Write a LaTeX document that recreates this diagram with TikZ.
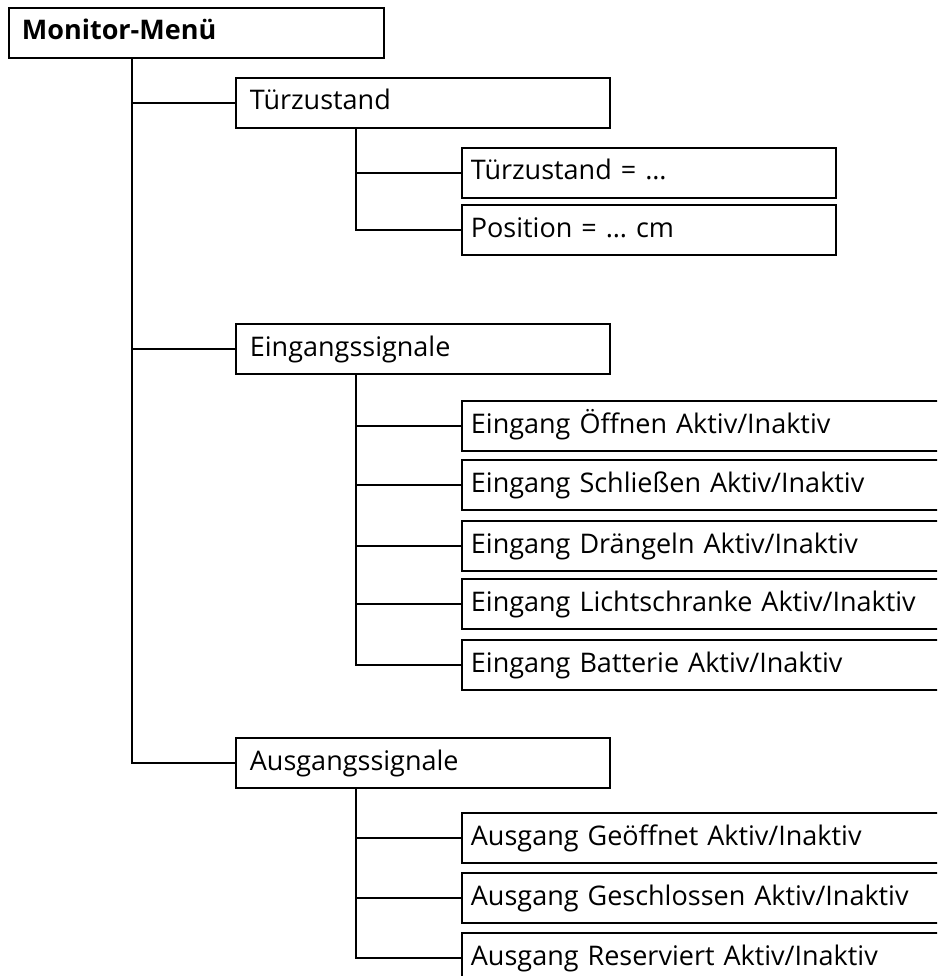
\documentclass[tikz,border=0pt]{standalone}
\usepackage{fontspec}
\setmainfont{Open Sans}
\begin{document}
\begin{tikzpicture}[x=1pt,y=-1pt,
  box/.style={draw=black, line width=1.8pt, anchor=west, minimum height=50pt,
    inner ysep=0pt, align=left, font=\fontsize{27}{30}\selectfont,
    text height=20pt, text depth=6pt},
  lvlone/.style={box, inner xsep=13pt, text width=375pt-26pt},
  lvltwo/.style={box, inner xsep=14pt, text width=374pt-28pt},
  lvlthree/.style={box, inner xsep=9pt, text width=374pt-18pt},
  lvlwide/.style={box, inner xsep=9pt, text width=520pt-18pt},
  link/.style={line width=1.8pt}]
\useasboundingbox (0,0) rectangle (937,976);
\clip (0,0) rectangle (937,976);

% top level
\node[lvlone, font=\fontsize{27}{30}\selectfont\bfseries] (root) at (8,33) {Monitor-Menü};

% second level
\node[lvltwo] (tz) at (235,103) {Türzustand};
\node[lvltwo] (es) at (235,349) {Eingangssignale};
\node[lvltwo] (as) at (235,763) {Ausgangssignale};

% door state
\node[lvlthree] (tz1) at (461,173) {Türzustand = …};
\node[lvlthree] (tz2) at (461,230) {Position = … cm};

% input signals
\node[lvlwide] (e1) at (461,426) {Eingang Öffnen Aktiv/Inaktiv};
\node[lvlwide] (e2) at (461,485) {Eingang Schließen Aktiv/Inaktiv};
\node[lvlwide] (e3) at (461,546) {Eingang Drängeln Aktiv/Inaktiv};
\node[lvlwide] (e4) at (461,604) {Eingang Lichtschranke Aktiv/Inaktiv};
\node[lvlwide] (e5) at (461,665) {Eingang Batterie Aktiv/Inaktiv};

% output signals
\node[lvlwide] (a1) at (461,838) {Ausgang Geöffnet Aktiv/Inaktiv};
\node[lvlwide] (a2) at (461,898) {Ausgang Geschlossen Aktiv/Inaktiv};
\node[lvlwide] (a3) at (461,958) {Ausgang Reserviert Aktiv/Inaktiv};

% tree connectors
\foreach \c in {tz,es,as}
  \draw[link] ([xshift=124pt]root.south west) |- (\c.west);
\foreach \c in {tz1,tz2}
  \draw[link] ([xshift=121pt]tz.south west) |- (\c.west);
\foreach \c in {e1,e2,e3,e4,e5}
  \draw[link] ([xshift=121pt]es.south west) |- (\c.west);
\foreach \c in {a1,a2,a3}
  \draw[link] ([xshift=121pt]as.south west) |- (\c.west);
\end{tikzpicture}
\end{document}
